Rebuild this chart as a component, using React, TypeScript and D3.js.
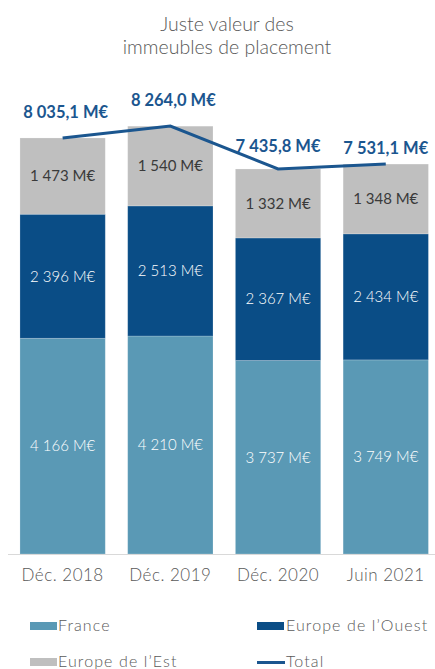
import React from "react";
import * as d3 from "d3";

const categories = ["Déc. 2018", "Déc. 2019", "Déc. 2020", "Juin 2021"];
const france = [4166, 4210, 3737, 3749];
const europeOuest = [2396, 2513, 2367, 2434];
const europeEst = [1473, 1540, 1332, 1348];
const totals = [8035.1, 8264.0, 7435.8, 7531.1];
const totalLabels = ["8 035,1 M€", "8 264,0 M€", "7 435,8 M€", "7 531,1 M€"];
const seriesNames = ["France", "Europe de l’Ouest", "Europe de l’Est", "Total"];

const W = 435;
const H = 669;
const COLORS = { france: "#5a99b5", ouest: "#0a4d86", est: "#bfbfbf", total: "#1b568f" };
const FONT = "Lato, 'Open Sans', sans-serif";

const fmt = (v: number) => {
  const s = String(Math.round(v));
  return s.replace(/\B(?=(\d{3})+(?!\d))/g, " ") + " M€";
};

export default function App() {
  const x = d3.scaleBand<string>().domain(categories).range([9.2, 439.2]).paddingInner(0.208).paddingOuter(0.1);
  const y = d3.scaleLinear().domain([0, 9000]).range([554, 88]);

  const rows = categories.map((c, i) => ({ cat: c, france: france[i], ouest: europeOuest[i], est: europeEst[i] }));
  const stack = d3.stack<any>().keys(["france", "ouest", "est"]);
  const layers = stack(rows);
  const colorOf: Record<string, string> = { france: COLORS.france, ouest: COLORS.ouest, est: COLORS.est };
  const textColorOf: Record<string, string> = { france: "#ffffff", ouest: "#ffffff", est: "#3a3a3a" };
  const weightOf: Record<string, number> = { france: 300, ouest: 300, est: 400 };

  const cx = (i: number) => (x(categories[i]) as number) + x.bandwidth() / 2;
  const line = d3
    .line<number>()
    .x((_, i) => cx(i))
    .y((d) => y(d));

  const labelOffsets = [20, 20, 17, 10];
  const labelDx = [3, 3, 0, 0];

  return (
    <div style={{ position: "fixed", left: 0, top: 0, width: W, height: H, overflow: "hidden" }}>
      <svg width={W} height={H} style={{ display: "block", fontFamily: FONT }}>
        <rect width={W} height={H} fill="#ffffff" />
        <text x={227} y={31} textAnchor="middle" fontSize={19.5} fill="#595959" fontWeight={300}>
          Juste valeur des
        </text>
        <text x={227} y={54} textAnchor="middle" fontSize={19.5} fill="#595959" fontWeight={300}>
          immeubles de placement
        </text>

        {layers.map((layer) => (
          <g key={layer.key}>
            {layer.map((d, i) => {
              const x0 = x(categories[i]) as number;
              const y0 = y(d[1]);
              const h = y(d[0]) - y(d[1]);
              return (
                <g key={i}>
                  <rect x={x0} y={y0} width={x.bandwidth()} height={h} fill={colorOf[layer.key]} stroke="#ffffff" strokeOpacity={0.25} strokeWidth={0.8} />
                  <text
                    x={x0 + x.bandwidth() / 2}
                    y={y0 + h / 2}
                    dy="0.35em"
                    textAnchor="middle"
                    fontSize={15}
                    fontWeight={weightOf[layer.key]}
                    fill={textColorOf[layer.key]}
                  >
                    {fmt(d[1] - d[0])}
                  </text>
                </g>
              );
            })}
          </g>
        ))}

        <line x1={8} x2={435} y1={554.5} y2={554.5} stroke="#d9d9d9" strokeWidth={1} />

        {categories.map((c, i) => (
          <text key={c} x={cx(i)} y={581} textAnchor="middle" fontSize={17} letterSpacing={0.5} fill="#595959" fontWeight={300}>
            {c}
          </text>
        ))}

        <path d={line(totals) || ""} fill="none" stroke={COLORS.total} strokeWidth={3} />

        {totals.map((t, i) => (
          <text
            key={i}
            x={cx(i) + labelDx[i]}
            y={y(t) - labelOffsets[i]}
            textAnchor="middle"
            fontSize={16.5}
            fontWeight={700}
            fill={COLORS.total}
          >
            {totalLabels[i]}
          </text>
        ))}

        <g fontSize={16} letterSpacing={1.1} fill="#595959" fontWeight={300}>
          <rect x={30} y={622} width={27} height={8} fill={COLORS.france} />
          <text x={58} y={631}>{seriesNames[0]}</text>
          <rect x={257} y={622} width={27} height={8} fill={COLORS.ouest} />
          <text x={286} y={631}>{seriesNames[1]}</text>
          <rect x={30} y={658} width={27} height={8} fill={COLORS.est} />
          <text x={58} y={667}>{seriesNames[2]}</text>
          <line x1={257} x2={285} y1={662.5} y2={662.5} stroke={COLORS.total} strokeWidth={3} />
          <text x={286} y={667}>{seriesNames[3]}</text>
        </g>
      </svg>
    </div>
  );
}
